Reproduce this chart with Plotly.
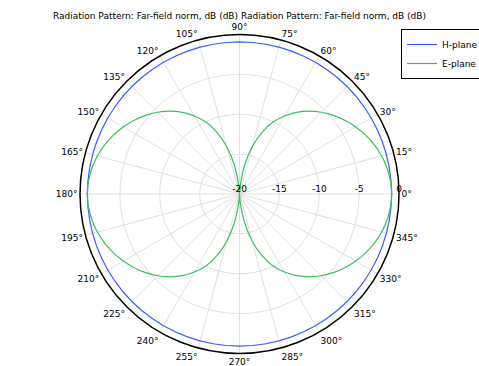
import plotly.graph_objects as go

# ---- data ----
angles = list(range(0, 361, 5))  # degrees

e_plane = [
    # 0 .. 90
    -0.90, -1.00, -1.22, -1.55, -2.00, -2.55, -3.18, -3.88, -4.65, -5.50,
    -6.45, -7.50, -8.70, -10.05, -11.80, -13.90, -16.40, -19.00, -20.00,
    # 95 .. 180
    -19.00, -16.40, -13.90, -11.80, -10.05, -8.70, -7.50, -6.45, -5.50,
    -4.65, -3.88, -3.18, -2.55, -2.00, -1.55, -1.22, -1.00, -0.90,
    # 185 .. 270
    -1.00, -1.22, -1.55, -2.00, -2.55, -3.18, -3.88, -4.65, -5.50,
    -6.45, -7.50, -8.70, -10.05, -11.80, -13.90, -16.40, -19.00, -20.00,
    # 275 .. 360
    -19.00, -16.40, -13.90, -11.80, -10.05, -8.70, -7.50, -6.45, -5.50,
    -4.65, -3.88, -3.18, -2.55, -2.00, -1.55, -1.22, -1.00, -0.90,
]
h_plane = [-0.93] * len(angles)

angle_tickvals = list(range(0, 360, 15))
angle_ticktext = ["0°", "15°", "30°", "45°", "60°", "75°", "90°", "105°",
                  "120°", "135°", "150°", "165°", "180°", "195°", "210°",
                  "225°", "240°", "255°", "270°", "285°", "300°", "315°",
                  "330°", "345°"]
radial_tickvals = [-20, -15, -10, -5, 0]
radial_ticktext = ["-20", "-15", "-10", "-5", "0"]

title_text = ("Radiation Pattern: Far-field norm, dB (dB) "
              "Radiation Pattern: Far-field norm, dB (dB)")

W, H = 479, 366
cx, cy, R = 239.5, 194.0, 159.5

fig = go.Figure()
fig.add_trace(go.Scatterpolar(
    r=h_plane, theta=angles, mode="lines", name="H-plane",
    line=dict(color="#3a5cff", width=1.2)))
fig.add_trace(go.Scatterpolar(
    r=e_plane, theta=angles, mode="lines", name="E-plane",
    line=dict(color="#3cbf5a", width=1.2, shape="spline")))

fig.update_layout(
    width=W, height=H,
    margin=dict(l=0, r=0, t=0, b=0, autoexpand=False),
    paper_bgcolor="white",
    font=dict(family="DejaVu Sans", size=9, color="black"),
    title=dict(text=title_text, x=cx / W, xanchor="center",
               y=1 - 16 / H, yanchor="middle", font=dict(size=9)),
    polar=dict(
        domain=dict(x=[(cx - R) / W, (cx + R) / W],
                    y=[(H - cy - R) / H, (H - cy + R) / H]),
        bgcolor="white",
        radialaxis=dict(range=[-20, 0], tickvals=radial_tickvals,
                        ticktext=radial_ticktext, angle=0,
                        side="counterclockwise", showline=False, ticks="",
                        gridcolor="#e0e0e0", gridwidth=1,
                        tickfont=dict(size=9)),
        angularaxis=dict(rotation=0, direction="counterclockwise",
                         tickvals=angle_tickvals, ticktext=angle_ticktext,
                         showline=True, linecolor="black", linewidth=1.5,
                         gridcolor="#e0e0e0", gridwidth=1, ticks="",
                         tickfont=dict(size=9)),
    ),
    showlegend=True,
    legend=dict(x=484 / W, y=1 - 29 / H,
                xanchor="right", yanchor="top",
                bordercolor="black", borderwidth=1, bgcolor="white",
                font=dict(size=9), itemwidth=30,
                tracegroupgap=0),
)

fig.write_html(
    "out.html",
    config={"displayModeBar": False},
    post_script="document.body.style.margin='0';"
                "document.body.style.overflow='hidden';",
)
